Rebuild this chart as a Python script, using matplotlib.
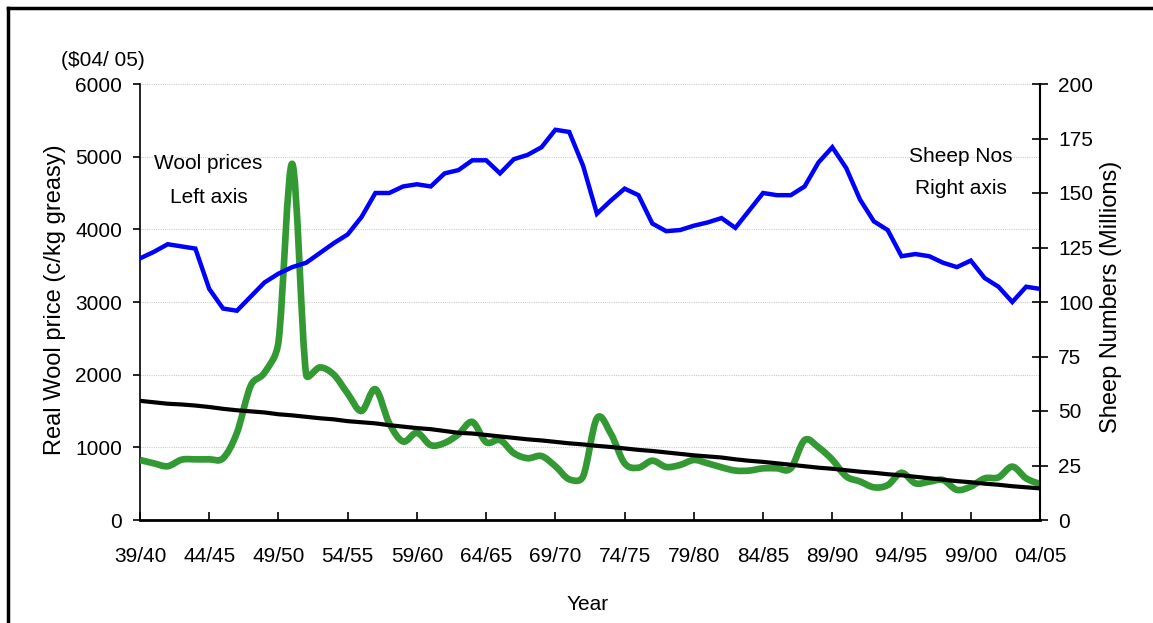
import numpy as np
import matplotlib
matplotlib.use("Agg")
import matplotlib.pyplot as plt
from matplotlib.path import Path
from matplotlib.patches import PathPatch
from matplotlib.lines import Line2D

# ---------------- data ----------------
tick_labels = ["39/40", "44/45", "49/50", "54/55", "59/60", "64/65", "69/70",
               "74/75", "79/80", "84/85", "89/90", "94/95", "99/00", "04/05"]

# Real wool price (c/kg greasy, $04/05) - left axis
wool_price = [826, 780, 740, 830, 835, 835, 850, 1200, 1850, 2030,
              2450, 4900, 2000, 2100, 2000, 1740, 1500, 1800, 1330, 1080,
              1200, 1030, 1060, 1180, 1350, 1070, 1100, 920, 850, 880,
              740, 560, 600, 1400, 1190, 780, 720, 816, 730, 757,
              826, 780, 725, 680, 680, 711, 711, 711, 1100, 1000,
              830, 600, 530, 450, 480, 650, 505, 527, 550, 415,
              460, 573, 587, 734, 573, 495]

# Trend of wool price - left axis
wool_trend = [1640, 1620, 1600, 1590, 1575, 1555, 1530, 1510, 1495, 1480,
              1455, 1440, 1420, 1400, 1385, 1360, 1345, 1330, 1305, 1285,
              1265, 1250, 1225, 1200, 1190, 1170, 1150, 1130, 1110, 1095,
              1075, 1055, 1040, 1020, 1005, 985, 965, 950, 930, 910,
              890, 875, 860, 835, 815, 800, 780, 760, 740, 720,
              705, 685, 665, 650, 630, 615, 595, 575, 555, 535,
              520, 500, 485, 465, 450, 435]

# Sheep numbers (millions) - right axis
sheep = [120, 123, 126.5, 125.5, 124.5, 106, 97, 96, 102.5, 109,
         113, 116, 118, 122.5, 127, 131, 139, 150, 150, 153,
         154, 153, 159, 160.5, 165, 165, 159, 165.5, 167.5, 171,
         179, 178, 162.5, 140.5, 146.5, 152, 149, 136, 132.5, 133,
         135, 136.5, 138.5, 134, 142, 150, 149, 149, 153, 164,
         171, 161.5, 147, 137, 133, 121, 122, 121, 118, 116,
         119, 111, 107, 100, 107, 106]

# ---------------- style ----------------
FONT = "Liberation Sans"
FS = 15        # horizontal text
FSV = 17       # vertical axis titles

W, H = 1153, 623
fig = plt.figure(figsize=(W / 100, H / 100), dpi=100)
L, R, T, B = 140, 1040, 84, 520
ax = fig.add_axes([L / W, 1 - B / H, (R - L) / W, (B - T) / H])
ax2 = ax.twinx()

x = np.arange(len(wool_price))

ax.set_xlim(0, 65)
ax.set_ylim(0, 6000)
ax2.set_ylim(0, 200)


def smooth_path(axis, xs, ys, cap=0.5):
    """Excel-like smoothed line: Catmull-Rom Bezier handles computed in
    screen space, each handle limited to a fraction of its segment."""
    P = axis.transData.transform(np.column_stack([xs, ys]).astype(float))
    n = len(P)
    verts = [P[0]]
    codes = [Path.MOVETO]
    for i in range(n - 1):
        a = P[i - 1] if i > 0 else P[i]
        b = P[i]
        c = P[i + 1]
        d = P[i + 2] if i + 2 < n else P[i + 1]
        chord = np.hypot(*(c - b))
        t1 = (c - a) / 6.0
        t2 = (d - b) / 6.0
        l1, l2 = np.hypot(*t1), np.hypot(*t2)
        if l1 > cap * chord and l1 > 0:
            t1 = t1 * cap * chord / l1
        if l2 > cap * chord and l2 > 0:
            t2 = t2 * cap * chord / l2
        verts += [b + t1, c - t2, c]
        codes += [Path.CURVE4] * 3
    verts = axis.transData.inverted().transform(np.array(verts))
    return Path(verts, codes)


ax.add_patch(PathPatch(smooth_path(ax, x, wool_price), facecolor="none",
                       edgecolor="#339933", lw=4.8, capstyle="butt",
                       joinstyle="round", zorder=3))
ax.plot(x, wool_trend, color="black", lw=3.0, zorder=4, solid_joinstyle="round")
ax2.plot(x, sheep, color="#0000FF", lw=3.2, solid_joinstyle="miter")

ax.set_xticks(np.arange(0, 66, 5))
ax.set_xticklabels(tick_labels, fontsize=FS, family=FONT)
ax.set_yticks(np.arange(0, 6001, 1000))
ax.set_yticklabels([str(v) for v in range(0, 6001, 1000)], fontsize=FS, family=FONT)
ax2.set_yticks(np.arange(0, 201, 25))
ax2.set_yticklabels([str(v) for v in range(0, 201, 25)], fontsize=FS, family=FONT)

ax.tick_params(axis="x", direction="in", length=6, width=1.2, pad=19.5)
ax.tick_params(axis="y", direction="out", length=5, width=1.2, pad=8)
ax2.tick_params(axis="y", direction="inout", length=12, width=1.2, pad=7)

ax.yaxis.grid(True, color="#cccccc", linestyle=(0, (1, 1)), lw=0.8)
ax.set_axisbelow(True)

for a in (ax, ax2):
    a.spines["top"].set_visible(False)
    a.patch.set_visible(False)
ax.spines["right"].set_visible(False)
ax2.spines["left"].set_visible(False)
ax2.spines["bottom"].set_visible(False)
ax.spines["left"].set_linewidth(1.2)
ax.spines["bottom"].set_linewidth(2.0)
ax2.spines["right"].set_linewidth(1.5)


def ftext(px, py, s, **kw):
    fig.text(px / W, 1 - py / H, s, **kw)


ftext(103, 66, "($04/ 05)", fontsize=FS, family=FONT, ha="center", va="baseline")
ftext(55, 300, "Real Wool price (c/kg greasy)", fontsize=FSV, family=FONT,
      rotation=90, ha="center", va="center")
ftext(1111, 297, "Sheep Numbers (Millions)", fontsize=FSV, family=FONT,
      rotation=90, ha="center", va="center")
ftext(588, 610, "Year", fontsize=FS, family=FONT, ha="center", va="baseline")
ftext(208.5, 169.5, "Wool prices", fontsize=FS, family=FONT, ha="center", va="baseline")
ftext(209, 202.5, "Left axis", fontsize=FS, family=FONT, ha="center", va="baseline")
ftext(960.5, 161.5, "Sheep Nos", fontsize=FS, family=FONT, ha="center", va="baseline")
ftext(960.5, 194.5, "Right axis", fontsize=FS, family=FONT, ha="center", va="baseline")

# outer frame (top and left edges)
fig.add_artist(Line2D([8 / W, 1.0], [1 - 8 / H, 1 - 8 / H], transform=fig.transFigure,
                      color="black", lw=2.5))
fig.add_artist(Line2D([8 / W, 8 / W], [0, 1 - 8 / H], transform=fig.transFigure,
                      color="black", lw=2.5))

fig.savefig("out.png", dpi=100)
